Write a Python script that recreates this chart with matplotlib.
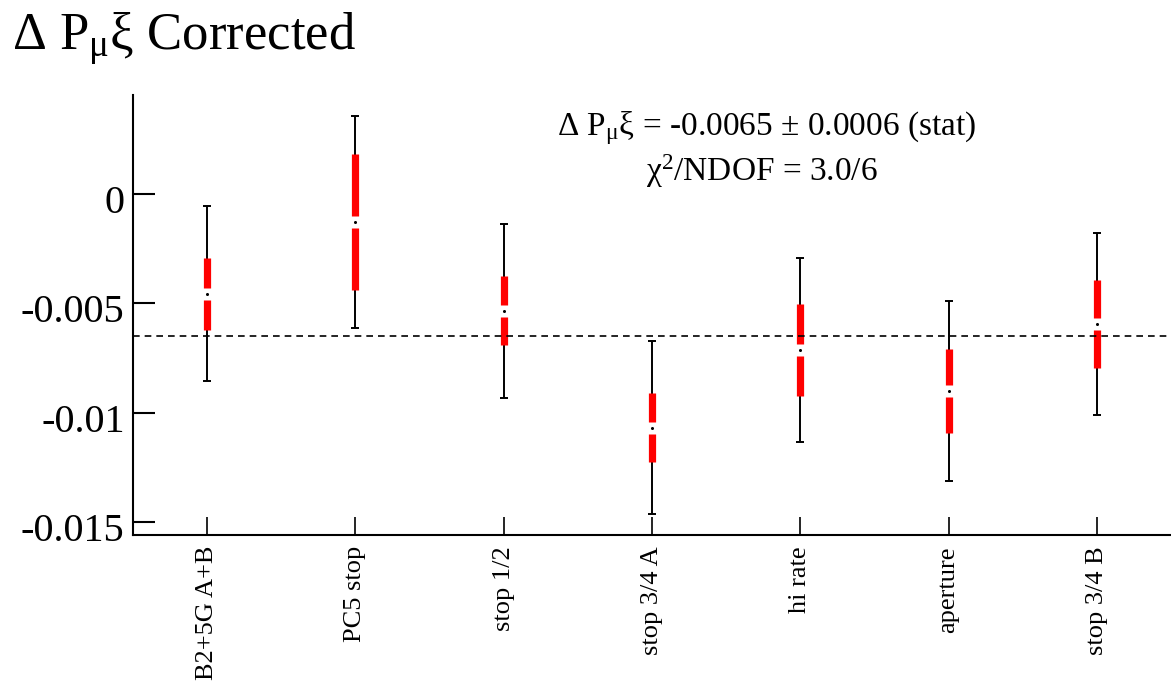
import matplotlib
matplotlib.use("Agg")
import matplotlib.pyplot as plt
import matplotlib.transforms as mtransforms
import numpy as np

plt.rcParams['font.family'] = ['Liberation Serif', 'DejaVu Serif']
plt.rcParams['mathtext.fontset'] = 'custom'
plt.rcParams['mathtext.rm'] = 'Liberation Serif'
plt.rcParams['mathtext.it'] = 'Liberation Serif'

categories = ["B2+5G A+B", "PC5 stop", "stop 1/2", "stop 3/4 A", "hi rate", "aperture", "stop 3/4 B"]
values = [-0.00457, -0.00128, -0.00534, -0.01069, -0.00714, -0.00901, -0.00595]
stat_err = [0.00165, 0.00313, 0.00158, 0.00159, 0.00210, 0.00194, 0.00200]
total_err = [0.00400, 0.00486, 0.00398, 0.00397, 0.00421, 0.00411, 0.00415]
mean_value = -0.0065
yticks = [0, -0.005, -0.01, -0.015]
ytick_labels = ["0", "-0.005", "-0.01", "-0.015"]

fig = plt.figure(figsize=(11.71, 6.85), dpi=100)
ax = fig.add_axes([133/1171, 1-535/685, 1-133/1171, (535-95)/685])

x = np.arange(1, len(categories) + 1)

ax.errorbar(x, values, yerr=total_err, fmt='none', ecolor='black',
            elinewidth=1.4, capsize=3.2, capthick=1.4, zorder=2)
ax.errorbar(x, values, yerr=stat_err, fmt='none', ecolor='red',
            elinewidth=5.2, capsize=0, zorder=3)
ax.axhline(mean_value, color='black', lw=1.2, dashes=[4, 3], zorder=4)
ax.plot(x, values, 's', color='white', ms=9, mec='none', zorder=5)
ax.plot(x, values, 'o', color='black', ms=2.2, mec='none', zorder=6)

ax.set_xlim(0.5, 7.5)
ax.set_ylim(-0.0156, 0.00453)

for s in ['top', 'right']:
    ax.spines[s].set_visible(False)
for s in ['left', 'bottom']:
    ax.spines[s].set_linewidth(1.5)

ax.set_yticks(yticks)
ax.set_yticklabels(ytick_labels, fontsize=29)
ax.set_xticks(x)
ax.set_xticklabels(categories, rotation=90, fontsize=19, va='top', ha='center')
ax.tick_params(axis='y', direction='in', length=16, width=1.5, pad=6)
ax.tick_params(axis='x', direction='in', length=13, width=1.2, pad=8)
ax.minorticks_off()

off = mtransforms.ScaledTranslation(0, -5/100, fig.dpi_scale_trans)
for lab in ax.get_yticklabels():
    lab.set_transform(lab.get_transform() + off)

fig.text(12/1171, 1-50/685, "Δ P$_{\\mathrm{μ}}$ξ Corrected", fontsize=38,
         ha='left', va='baseline')

ax.text(767/1171, 1-135/685, "Δ P$_{\\mathrm{μ}}$ξ = -0.0065 ± 0.0006 (stat)",
        transform=fig.transFigure, fontsize=24, ha='center', va='baseline')
ax.text(762/1171, 1-181/685, "χ$^{2}$/NDOF = 3.0/6",
        transform=fig.transFigure, fontsize=24, ha='center', va='baseline')

fig.savefig("out.png", dpi=100)
